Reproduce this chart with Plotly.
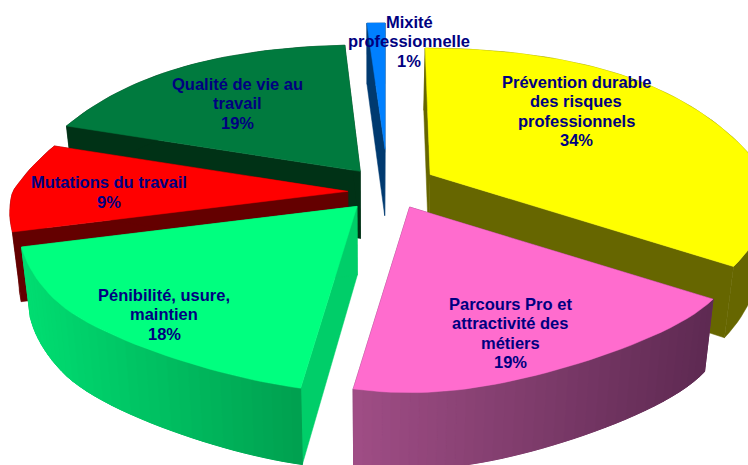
import numpy as np
import plotly.graph_objects as go

# Data (clockwise from 12 o'clock)
categories = [["Prévention durable", "des risques", "professionnels"],
              ["Parcours Pro et", "attractivité des", "métiers"],
              ["Pénibilité, usure,", "maintien"],
              ["Mutations du travail"],
              ["Qualité de vie au", "travail"],
              ["Mixité", "professionnelle"]]
values = [34, 19, 18, 9, 19, 1]

# Styling per slice
explode = [0.14, 0.14, 0.135, 0.135, 0.135, 0.28]
nudge = [(2, -5), (4, -3), (1, 1), (6, 2), (1, -2), (1, 3)]
top_colors = ["#FFFF00", "#FF6CCE", "#00FF7F", "#FF0000", "#007A3E", "#0080FF"]
cut_colors = ["#666600", "#6B2E5C", "#00CE69", "#640000", "#003216", "#003A70"]
wall_left = ["#666600", "#A04E86", "#00DE72", "#640000", "#003216", "#003A70"]
wall_right = ["#666600", "#5E2A52", "#00A050", "#640000", "#003216", "#003A70"]
label_xy = [(576, 111), (510, 333), (164, 314), (109, 192), (237, 103), (409, 41)]
draw_order = [5, 4, 3, 2, 0, 1]

W, H = 748, 465
CX, CY = 387, 190
A, B = 335, 156
PX, PY = 0.136, 0.19
VX = 370
LINE_H = 19.5


def rim(theta, ex):
    X, Y = np.sin(theta), -np.cos(theta)
    f = 1 + PX * Y - 1.2 * np.maximum(0, Y - 0.54) ** 2 - 0.155 * np.maximum(0, -Y) * np.maximum(0, Y + 1)
    x = A * X * f + (385 - ex) * 0.11 * np.maximum(0, -Y)
    return x, B * Y * (1 + PY * Y)


def down(x, y):
    x, y = np.asarray(x, float), np.asarray(y, float)
    return x + (VX - x) * 0.025, y + 60 + 0.042 * y


def hex_rgb(c):
    return np.array([int(c[i:i + 2], 16) for i in (1, 3, 5)], float)


def poly(fig, xs, ys, color, lw=0.5):
    xs, ys = list(xs), list(ys)
    fig.add_trace(go.Scatter(x=xs + xs[:1], y=ys + ys[:1], mode="lines", fill="toself",
                             fillcolor=color, line=dict(color=color, width=lw),
                             hoverinfo="skip", showlegend=False))


fig = go.Figure()
edges = np.concatenate([[0], np.cumsum(values)]) / sum(values) * 2 * np.pi

for i in draw_order:
    t0, t1 = edges[i], edges[i + 1]
    tm = (t0 + t1) / 2
    ex = CX + A * explode[i] * np.sin(tm) + nudge[i][0]
    ey = CY - B * explode[i] * np.cos(tm) + nudge[i][1]
    th = np.linspace(t0, t1, max(6, int((t1 - t0) / 0.03)))
    rx, ry = rim(th, ex)
    rx, ry = rx + ex, ry + ey
    bx, by = down(rx, ry)
    ax, ay = down(ex, ey)
    # radial cut faces
    poly(fig, [ex, rx[0], bx[0], ax], [ey, ry[0], by[0], ay], cut_colors[i])
    poly(fig, [ex, rx[-1], bx[-1], ax], [ey, ry[-1], by[-1], ay], cut_colors[i])
    # outer wall: solid base, then left-to-right shading where the colour changes
    cl, cr = hex_rgb(wall_left[i]), hex_rgb(wall_right[i])
    mid = "rgb(%d,%d,%d)" % tuple((cl + cr) / 2)
    poly(fig, np.concatenate([rx, bx[::-1]]), np.concatenate([ry, by[::-1]]), mid)
    if wall_left[i] != wall_right[i]:
        xmin, xmax = rx.min(), rx.max()
        for k in range(len(th) - 1):
            f = ((rx[k] + rx[k + 1]) / 2 - xmin) / max(xmax - xmin, 1)
            c = cl + (cr - cl) * f
            col = "rgb(%d,%d,%d)" % tuple(c)
            poly(fig, [rx[k], rx[k + 1], bx[k + 1], bx[k]],
                 [ry[k], ry[k + 1], by[k + 1], by[k]], col, lw=1)
    # top surface
    poly(fig, np.concatenate([[ex], rx]), np.concatenate([[ey], ry]), top_colors[i])

for name, v, (lx, ly) in zip(categories, values, label_xy):
    lines = name + [f"{v}%"]
    for j, line in enumerate(lines):
        fig.add_annotation(x=lx, y=ly + (j - (len(lines) - 1) / 2) * LINE_H,
                           xref="x", yref="y", text=f"<b>{line}</b>",
                           showarrow=False, align="center",
                           font=dict(family="Liberation Sans", size=16.5, color="#000080"))

fig.update_layout(width=W, height=H, margin=dict(l=0, r=0, t=0, b=0),
                  paper_bgcolor="white", plot_bgcolor="white", showlegend=False,
                  xaxis=dict(range=[0, W], visible=False, fixedrange=True),
                  yaxis=dict(range=[H, 0], visible=False, fixedrange=True))
fig.write_html("out.html", config={"displayModeBar": False},
               post_script="document.body.style.margin='0';")
